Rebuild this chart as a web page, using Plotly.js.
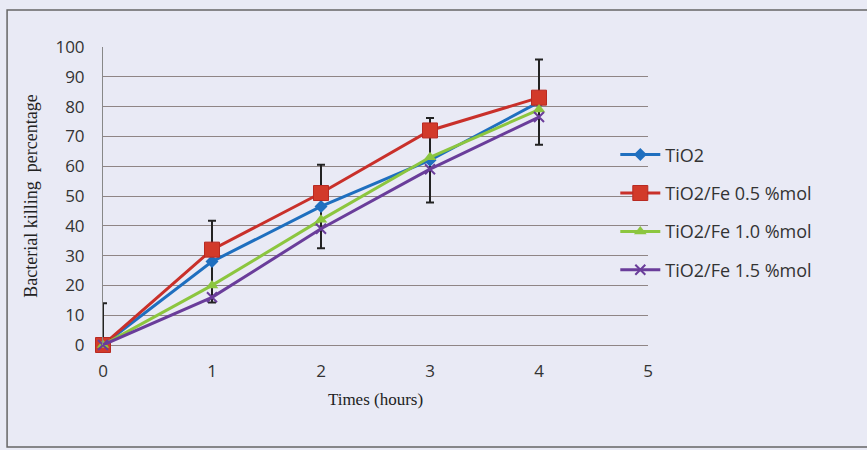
<!DOCTYPE html>
<html>
<head>
<meta charset="utf-8">
<script src="https://cdn.plot.ly/plotly-3.0.1.min.js"></script>
<style>html,body{margin:0;padding:0;background:#e9eaf5;}#chart{width:867px;height:450px;}</style>
</head>
<body>
<div id="chart"></div>
<script>
const hours = [0, 1, 2, 3, 4];
const tio2 = [0, 28, 46.5, 62, 81.5];
const tio2Fe05 = [0, 32, 51, 72, 83];
const tio2Fe10 = [0, 20, 42, 63, 79];
const tio2Fe15 = [0, 16, 39, 59, 76.5];
const tio2ErrPlus = [14, 13.7, 14, 14.2, 14.3];
const tio2ErrMinus = [0, 13.7, 14, 14.2, 14.3];
const seriesNames = ['TiO2', 'TiO2/Fe 0.5 %mol', 'TiO2/Fe 1.0 %mol', 'TiO2/Fe 1.5 %mol'];
const xTicks = [0, 1, 2, 3, 4, 5];
const yTicks = [0, 10, 20, 30, 40, 50, 60, 70, 80, 90, 100];

const traces = [
  {x: hours, y: tio2, name: seriesNames[0], mode: 'lines+markers', legendgroup: 'a',
   line: {color: '#1f6fbf', width: 3}, marker: {symbol: 'diamond', size: 10, color: '#1f6fbf'},
   error_y: {type: 'data', array: tio2ErrPlus, arrayminus: tio2ErrMinus, color: '#222', thickness: 2, width: 4},
   cliponaxis: false},
  {x: hours, y: tio2Fe05, name: seriesNames[1], mode: 'lines+markers', legendgroup: 'b',
   line: {color: '#c9302a', width: 3}, marker: {symbol: 'square', size: 15, color: '#d23a2a', line: {color: '#b82a22', width: 1}},
   cliponaxis: false},
  {x: hours, y: tio2Fe10, name: seriesNames[2], mode: 'lines+markers', legendgroup: 'c',
   line: {color: '#8cc63f', width: 3}, marker: {symbol: 'triangle-up', size: 11, color: '#8cc63f'},
   cliponaxis: false},
  {x: hours, y: tio2Fe15, name: seriesNames[3], mode: 'lines+markers', legendgroup: 'd',
   line: {color: '#6a3d9a', width: 3}, marker: {symbol: 'x-thin', size: 10, color: '#6a3d9a', line: {color: '#6a3d9a', width: 2}},
   cliponaxis: false}
];

const layout = {
  width: 867, height: 450,
  margin: {l: 103, r: 219, t: 47, b: 105},
  paper_bgcolor: '#e9eaf5', plot_bgcolor: '#e9eaf5',
  showlegend: true,
  legend: {x: 0.94, y: 0.7, xanchor: 'left', yanchor: 'top', bgcolor: 'rgba(0,0,0,0)',
           font: {family: 'Open Sans, sans-serif', size: 18, color: '#333'},
           tracegroupgap: 12, traceorder: 'grouped', itemwidth: 40},
  xaxis: {range: [0, 5], tickvals: xTicks, showgrid: false, zeroline: false, showline: false,
          ticks: '', tickfont: {family: 'Open Sans, sans-serif', size: 17, color: '#333'}, ticklabelstandoff: 14,
          title: {text: 'Times (hours)', font: {family: 'Liberation Serif, serif', size: 17, color: '#222'}, standoff: 12}},
  yaxis: {range: [0, 100], tickvals: yTicks, showgrid: true, gridcolor: '#8f8585', gridwidth: 1,
          zeroline: true, zerolinecolor: '#8f8585', zerolinewidth: 1,
          showline: true, linecolor: '#888', linewidth: 1, ticks: '',
          tickfont: {family: 'Open Sans, sans-serif', size: 17, color: '#333'}, ticklabelstandoff: 14,
          title: {text: 'Bacterial killing&nbsp;&nbsp;percentage', font: {family: 'Liberation Serif, serif', size: 18, color: '#222'}, standoff: 13}},
  shapes: [
    {type: 'rect', xref: 'paper', yref: 'paper', x0: -0.176, x1: 1.405, y0: -0.342, y1: 1.124,
     line: {color: '#666', width: 1.5}, layer: 'below'}
  ]
};

Plotly.newPlot('chart', traces, layout, {displayModeBar: false, staticPlot: true});
</script>
</body>
</html>
